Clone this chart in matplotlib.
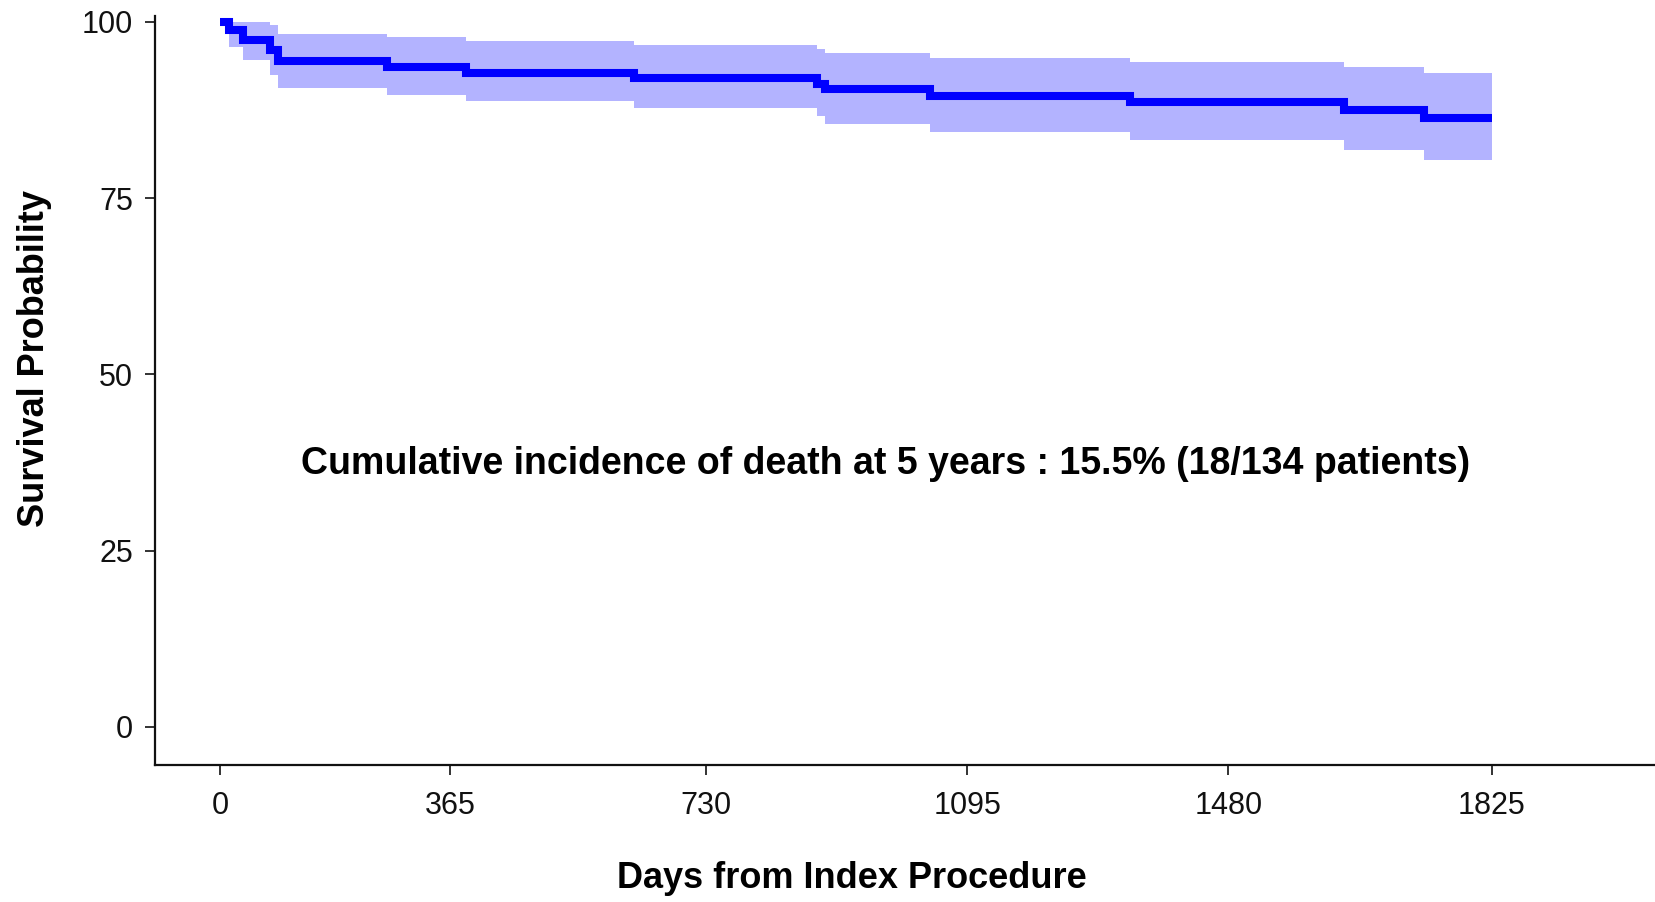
import matplotlib
matplotlib.use("Agg")
import matplotlib.pyplot as plt

# Kaplan-Meier step data (days, percent)
days = [0, 13, 33, 72, 83, 240, 353, 594, 857, 868, 1019, 1306, 1613, 1727, 1825]
survival = [100, 98.8, 97.4, 96.0, 94.5, 93.6, 92.8, 92.1, 91.2, 90.5, 89.5, 88.6, 87.5, 86.4, 86.4]
ci_upper = [100, 100, 100, 99.5, 98.3, 97.8, 97.3, 96.7, 96.2, 95.6, 94.9, 94.3, 93.6, 92.8, 92.8]
ci_lower = [100, 96.5, 94.6, 92.5, 90.7, 89.7, 88.8, 87.8, 86.6, 85.5, 84.4, 83.2, 81.8, 80.4, 80.4]

x_tick_pos = [0, 330, 698, 1072, 1447, 1825]
x_tick_labels = ["0", "365", "730", "1095", "1480", "1825"]
y_ticks = [0, 25, 50, 75, 100]

note = "Cumulative incidence of death at 5 years : 15.5% (18/134 patients)"

plt.rcParams["font.family"] = ["Liberation Sans", "DejaVu Sans"]

fig = plt.figure(figsize=(16.55, 9.02), dpi=100)
ax = fig.add_axes([0.0937, 0.1519, 1 - 0.0937, 0.9823 - 0.1519])

ax.fill_between(days, ci_lower, ci_upper, step="post", color="#b3b3ff", linewidth=0)
ax.step(days, survival, where="post", color="#0000ff", linewidth=5.8,
        solid_joinstyle="miter", solid_capstyle="butt")

ax.set_xlim(-93, 2059)
ax.set_ylim(-5.39, 100.85)

ax.set_xticks(x_tick_pos)
ax.set_xticklabels(x_tick_labels)
ax.set_yticks(y_ticks)

for side in ["top", "right"]:
    ax.spines[side].set_visible(False)
for side in ["left", "bottom"]:
    ax.spines[side].set_linewidth(1.6)
    ax.spines[side].set_color("#111111")

ax.tick_params(axis="y", length=7, width=1.2, pad=9, labelsize=22, colors="#111111")
ax.tick_params(axis="x", length=7, width=1.2, pad=12, labelsize=22, colors="#111111")

ax.text(955, 37.3, note, ha="center", va="center", fontsize=27, fontweight="bold")

fig.text(0.0211, 0.602, "Survival Probability", rotation=90, ha="center", va="center",
         fontsize=26, fontweight="bold")
fig.text(0.5148, 0.0255, "Days from Index Procedure", ha="center", va="center",
         fontsize=26, fontweight="bold")

fig.savefig("out.png", dpi=100)
plt.close(fig)
